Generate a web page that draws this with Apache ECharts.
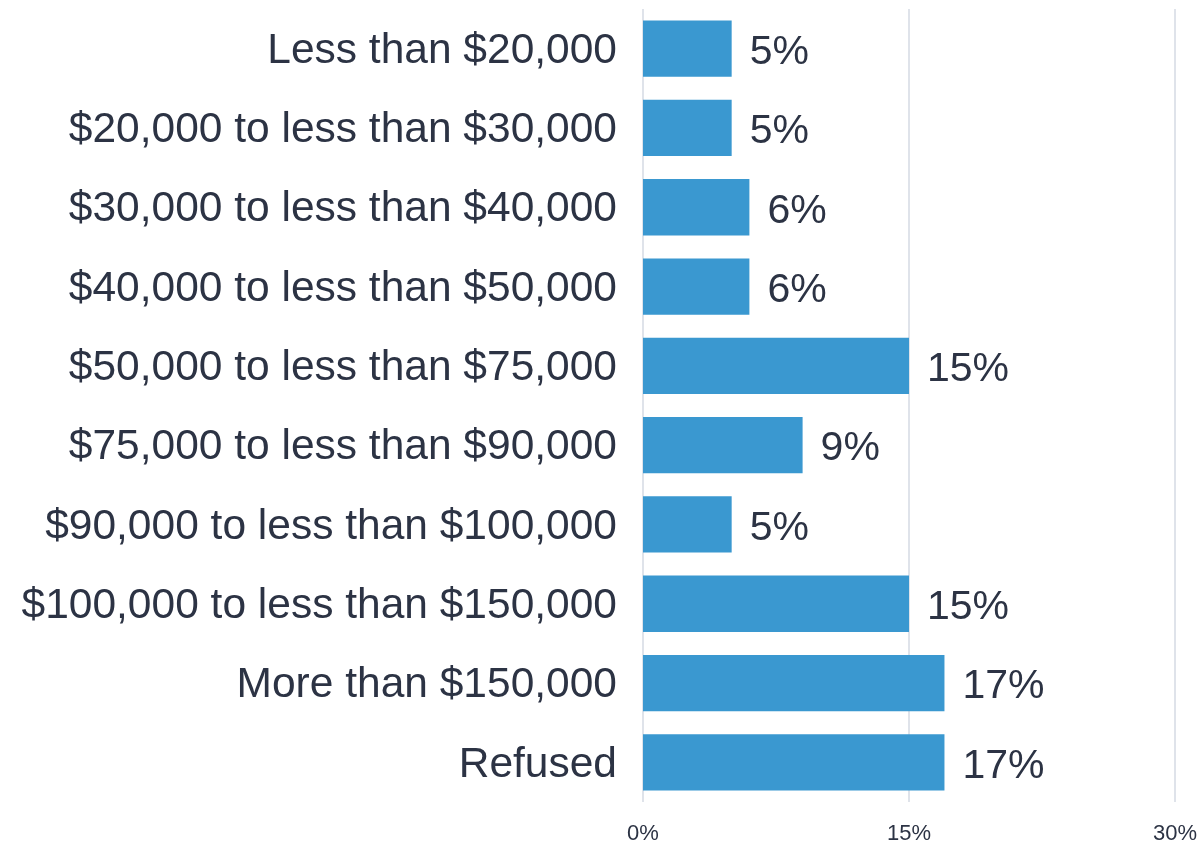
<!DOCTYPE html>
<html>
<head>
<meta charset="utf-8">
<script src="https://cdn.jsdelivr.net/npm/echarts@6/dist/echarts.min.js"></script>
<style>
  html, body { margin: 0; padding: 0; background: #ffffff; }
  #chart { width: 1202px; height: 845px; }
</style>
</head>
<body>
<div id="chart"></div>
<script>
// Household income brackets, top to bottom
const categories = [
  'Less than $20,000',
  '$20,000 to less than $30,000',
  '$30,000 to less than $40,000',
  '$40,000 to less than $50,000',
  '$50,000 to less than $75,000',
  '$75,000 to less than $90,000',
  '$90,000 to less than $100,000',
  '$100,000 to less than $150,000',
  'More than $150,000',
  'Refused'
];
// Share of respondents, percent
const shares = [5, 5, 6, 6, 15, 9, 5, 15, 17, 17];
// Value axis ticks
const axisMin = 0;
const axisMax = 30;
const axisStep = 15;

const textColor = '#2c3344';
const fontFamily = '"Liberation Sans", Arial, sans-serif';
const chart = echarts.init(document.getElementById('chart'), null, { renderer: 'canvas' });

chart.setOption({
  animation: false,
  backgroundColor: '#ffffff',
  grid: { left: 643, right: 27, top: 9, bottom: 42, containLabel: false },
  xAxis: {
    type: 'value',
    min: axisMin,
    max: axisMax,
    interval: axisStep,
    axisLine: { show: false },
    axisTick: { show: false },
    splitLine: { show: true, lineStyle: { color: '#dfe3ea', width: 2 } },
    axisLabel: {
      formatter: '{value}%',
      color: textColor,
      fontFamily: fontFamily,
      fontSize: 22,
      margin: 21
    }
  },
  yAxis: {
    type: 'category',
    data: categories,
    inverse: true,
    axisLine: { show: false },
    axisTick: { show: false },
    splitLine: { show: false },
    axisLabel: {
      color: textColor,
      fontFamily: fontFamily,
      fontSize: 42.5,
      margin: 26,
      verticalAlign: 'top',
      padding: [-19, 0, 0, 0]
    }
  },
  series: [{
    type: 'bar',
    data: shares,
    barCategoryGap: '29%',
    itemStyle: { color: '#3a98d0' },
    label: {
      show: true,
      position: 'right',
      distance: 18,
      offset: [0, 4],
      formatter: '{c}%',
      color: textColor,
      fontFamily: fontFamily,
      fontSize: 41
    }
  }]
});
</script>
</body>
</html>
